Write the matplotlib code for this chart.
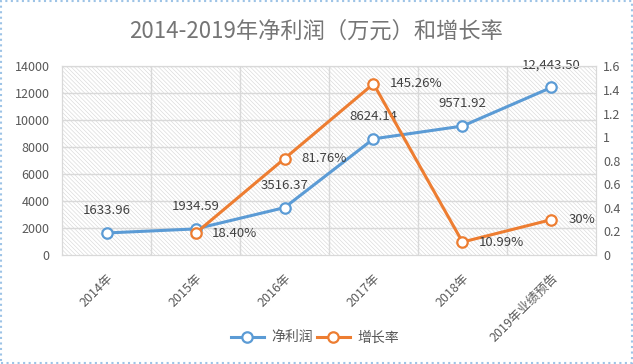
import numpy as np
import matplotlib
matplotlib.use('Agg')
import matplotlib.pyplot as plt
import matplotlib.transforms as mtransforms
from matplotlib.patches import Rectangle
from matplotlib.ticker import FuncFormatter

plt.rcParams['font.family'] = ['Noto Sans CJK SC', 'DejaVu Sans']
plt.rcParams['hatch.linewidth'] = 0.45
plt.rcParams['hatch.color'] = '#d9d9d9'

# data
years = ['2014年', '2015年', '2016年', '2017年', '2018年', '2019年业绩预告']
profit = [1633.96, 1934.59, 3516.37, 8624.14, 9571.92, 12443.50]
profit_labels = ['1633.96', '1934.59', '3516.37', '8624.14', '9571.92', '12,443.50']
growth = [np.nan, 0.1840, 0.8176, 1.4526, 0.1099, 0.30]
growth_labels = ['', '18.40%', '81.76%', '145.26%', '10.99%', '30%']

blue = '#5b9bd5'
orange = '#ed7d31'
txt = '#404040'
grid_c = '#d9d9d9'

fig = plt.figure(figsize=(6.33, 3.64), dpi=100)
ax = fig.add_axes([0.098, 0.2995, 0.8435, 0.518])
ax2 = ax.twinx()

x = np.arange(len(years))
ax.set_xlim(-0.5, len(years) - 0.5)
ax.set_ylim(0, 14000)
ax2.set_ylim(0, 1.6)
ax.set_yticks(np.arange(0, 14001, 2000))
ax2.set_yticks(np.arange(0, 1.61, 0.2))
ax2.yaxis.set_major_formatter(FuncFormatter(lambda v, p: '{:g}'.format(round(v, 1))))

# hatched plot area
hatch = Rectangle((0, 0), 1, 1, transform=ax.transAxes, facecolor='white',
                  edgecolor='#d9d9d9', linewidth=0, hatch='\\' * 8, zorder=0)
ax.add_patch(hatch)

# grid lines
for yv in np.arange(2000, 14001, 2000):
    ax.axhline(yv, color=grid_c, lw=1, zorder=1)
for xv in np.arange(0.5, len(years) - 0.5, 1):
    ax.axvline(xv, color=grid_c, lw=1, zorder=1)

for a in (ax, ax2):
    for s in a.spines.values():
        s.set_color(grid_c)
    a.tick_params(length=0, labelsize=9, labelcolor='#595959')
ax.tick_params(axis='y', pad=9)
ax2.tick_params(axis='y', pad=5)

ax.set_xticks(x)
ax.set_xticklabels(years, rotation=45, ha='right', fontsize=9, color='#595959')
ax.tick_params(axis='x', pad=12)
shift = mtransforms.ScaledTranslation(9 / 100, 0, fig.dpi_scale_trans)
for lab in ax.get_xticklabels():
    lab.set_transform(lab.get_transform() + shift)

l1, = ax.plot(x, profit, color=blue, lw=2.2, marker='o', ms=7.5,
              mfc='white', mec=blue, mew=1.6, zorder=3, label='净利润')
l2, = ax2.plot(x, growth, color=orange, lw=2.2, marker='o', ms=7.5,
               mfc='white', mec=orange, mew=1.6, zorder=3, label='增长率')

for i in range(len(years)):
    ax.annotate(profit_labels[i], (x[i], profit[i]), xytext=(0, 16),
                textcoords='offset points', ha='center', va='center',
                fontsize=9.5, color=txt)
    if growth_labels[i]:
        ax2.annotate(growth_labels[i], (x[i], growth[i]), xytext=(12, 0),
                     textcoords='offset points', ha='left', va='center',
                     fontsize=9.5, color=txt)

fig.suptitle('2014-2019年净利润（万元）和增长率', x=0.5, y=0.945, fontsize=16,
             color='#757575')

fig.legend(handles=[l1, l2], loc='center', bbox_to_anchor=(0.497, 0.073),
           ncol=2, frameon=False, fontsize=10, handlelength=2.4,
           handletextpad=0.5, columnspacing=0.3, labelcolor='#595959')

# dotted outer border
fig.patches.append(Rectangle((0.002, 0.003), 0.996, 0.994, transform=fig.transFigure,
                             fill=False, edgecolor='#9dc3e6', linestyle=':', lw=1.5))

fig.savefig('out.png', dpi=100)
